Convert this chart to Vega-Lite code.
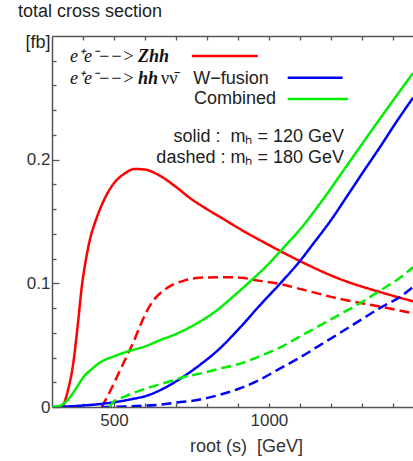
{
  "$schema": "https://vega.github.io/schema/vega-lite/v6.json",
  "width": 361,
  "height": 371,
  "autosize": {"type": "none"},
  "padding": {"left": 52, "top": 36, "right": 0, "bottom": 54},
  "background": "white",
  "title": {"text": "total cross section", "anchor": "start", "frame": "group", "dx": -34, "offset": 12, "fontSize": 18, "font": "Liberation Sans", "fontWeight": "normal", "color": "#222"},
  "config": {"view": {"stroke": null}},
  "datasets": {
    "curves": [
      {"x":335,"y":0,"s":"Zhh","m":"120"},{"x":350,"y":0.012,"s":"Zhh","m":"120"},{"x":369,"y":0.036,"s":"Zhh","m":"120"},{"x":383,"y":0.066,"s":"Zhh","m":"120"},{"x":396,"y":0.097,"s":"Zhh","m":"120"},{"x":410,"y":0.12,"s":"Zhh","m":"120"},{"x":423,"y":0.136,"s":"Zhh","m":"120"},{"x":440,"y":0.15,"s":"Zhh","m":"120"},{"x":455,"y":0.16,"s":"Zhh","m":"120"},{"x":475,"y":0.171,"s":"Zhh","m":"120"},{"x":500,"y":0.181,"s":"Zhh","m":"120"},{"x":530,"y":0.188,"s":"Zhh","m":"120"},{"x":568,"y":0.1925,"s":"Zhh","m":"120"},{"x":600,"y":0.192,"s":"Zhh","m":"120"},{"x":648,"y":0.187,"s":"Zhh","m":"120"},{"x":700,"y":0.178,"s":"Zhh","m":"120"},{"x":745,"y":0.169,"s":"Zhh","m":"120"},{"x":800,"y":0.16,"s":"Zhh","m":"120"},{"x":850,"y":0.1525,"s":"Zhh","m":"120"},{"x":906,"y":0.144,"s":"Zhh","m":"120"},{"x":1000,"y":0.131,"s":"Zhh","m":"120"},{"x":1100,"y":0.118,"s":"Zhh","m":"120"},{"x":1229,"y":0.1035,"s":"Zhh","m":"120"},{"x":1358,"y":0.093,"s":"Zhh","m":"120"},{"x":1465,"y":0.0855,"s":"Zhh","m":"120"},
      {"x":460,"y":0,"s":"Zhh","m":"180"},{"x":480,"y":0.009,"s":"Zhh","m":"180"},{"x":509,"y":0.024,"s":"Zhh","m":"180"},{"x":541,"y":0.041,"s":"Zhh","m":"180"},{"x":562,"y":0.052,"s":"Zhh","m":"180"},{"x":585,"y":0.066,"s":"Zhh","m":"180"},{"x":605,"y":0.077,"s":"Zhh","m":"180"},{"x":630,"y":0.087,"s":"Zhh","m":"180"},{"x":659,"y":0.094,"s":"Zhh","m":"180"},{"x":690,"y":0.099,"s":"Zhh","m":"180"},{"x":724,"y":0.102,"s":"Zhh","m":"180"},{"x":777,"y":0.1045,"s":"Zhh","m":"180"},{"x":850,"y":0.105,"s":"Zhh","m":"180"},{"x":910,"y":0.1045,"s":"Zhh","m":"180"},{"x":971,"y":0.102,"s":"Zhh","m":"180"},{"x":1035,"y":0.0995,"s":"Zhh","m":"180"},{"x":1100,"y":0.0955,"s":"Zhh","m":"180"},{"x":1229,"y":0.0874,"s":"Zhh","m":"180"},{"x":1358,"y":0.0812,"s":"Zhh","m":"180"},{"x":1465,"y":0.0758,"s":"Zhh","m":"180"},
      {"x":300,"y":0,"s":"W-fusion","m":"120"},{"x":400,"y":0.0012,"s":"W-fusion","m":"120"},{"x":476,"y":0.003,"s":"W-fusion","m":"120"},{"x":550,"y":0.006,"s":"W-fusion","m":"120"},{"x":616,"y":0.01,"s":"W-fusion","m":"120"},{"x":660,"y":0.015,"s":"W-fusion","m":"120"},{"x":702,"y":0.021,"s":"W-fusion","m":"120"},{"x":777,"y":0.034,"s":"W-fusion","m":"120"},{"x":840,"y":0.047,"s":"W-fusion","m":"120"},{"x":906,"y":0.064,"s":"W-fusion","m":"120"},{"x":970,"y":0.082,"s":"W-fusion","m":"120"},{"x":1035,"y":0.0995,"s":"W-fusion","m":"120"},{"x":1100,"y":0.118,"s":"W-fusion","m":"120"},{"x":1143,"y":0.132,"s":"W-fusion","m":"120"},{"x":1200,"y":0.151,"s":"W-fusion","m":"120"},{"x":1251,"y":0.17,"s":"W-fusion","m":"120"},{"x":1304,"y":0.19,"s":"W-fusion","m":"120"},{"x":1358,"y":0.21,"s":"W-fusion","m":"120"},{"x":1410,"y":0.23,"s":"W-fusion","m":"120"},{"x":1465,"y":0.25,"s":"W-fusion","m":"120"},
      {"x":460,"y":0,"s":"W-fusion","m":"180"},{"x":550,"y":0.0005,"s":"W-fusion","m":"180"},{"x":650,"y":0.002,"s":"W-fusion","m":"180"},{"x":700,"y":0.0035,"s":"W-fusion","m":"180"},{"x":777,"y":0.006,"s":"W-fusion","m":"180"},{"x":850,"y":0.0105,"s":"W-fusion","m":"180"},{"x":906,"y":0.015,"s":"W-fusion","m":"180"},{"x":970,"y":0.022,"s":"W-fusion","m":"180"},{"x":1035,"y":0.031,"s":"W-fusion","m":"180"},{"x":1100,"y":0.04,"s":"W-fusion","m":"180"},{"x":1165,"y":0.05,"s":"W-fusion","m":"180"},{"x":1230,"y":0.06,"s":"W-fusion","m":"180"},{"x":1294,"y":0.07,"s":"W-fusion","m":"180"},{"x":1358,"y":0.08,"s":"W-fusion","m":"180"},{"x":1423,"y":0.089,"s":"W-fusion","m":"180"},{"x":1465,"y":0.097,"s":"W-fusion","m":"180"},
      {"x":300,"y":0,"s":"Combined","m":"120"},{"x":326,"y":0.001,"s":"Combined","m":"120"},{"x":358,"y":0.008,"s":"Combined","m":"120"},{"x":380,"y":0.016,"s":"Combined","m":"120"},{"x":401,"y":0.024,"s":"Combined","m":"120"},{"x":430,"y":0.031,"s":"Combined","m":"120"},{"x":455,"y":0.036,"s":"Combined","m":"120"},{"x":500,"y":0.041,"s":"Combined","m":"120"},{"x":552,"y":0.0455,"s":"Combined","m":"120"},{"x":600,"y":0.049,"s":"Combined","m":"120"},{"x":648,"y":0.054,"s":"Combined","m":"120"},{"x":700,"y":0.059,"s":"Combined","m":"120"},{"x":745,"y":0.0645,"s":"Combined","m":"120"},{"x":777,"y":0.069,"s":"Combined","m":"120"},{"x":831,"y":0.078,"s":"Combined","m":"120"},{"x":874,"y":0.087,"s":"Combined","m":"120"},{"x":939,"y":0.1015,"s":"Combined","m":"120"},{"x":1000,"y":0.116,"s":"Combined","m":"120"},{"x":1035,"y":0.1255,"s":"Combined","m":"120"},{"x":1068,"y":0.1345,"s":"Combined","m":"120"},{"x":1100,"y":0.1435,"s":"Combined","m":"120"},{"x":1175,"y":0.168,"s":"Combined","m":"120"},{"x":1251,"y":0.195,"s":"Combined","m":"120"},{"x":1358,"y":0.233,"s":"Combined","m":"120"},{"x":1465,"y":0.27,"s":"Combined","m":"120"},
      {"x":485,"y":0,"s":"Combined","m":"180"},{"x":497,"y":0.004,"s":"Combined","m":"180"},{"x":530,"y":0.008,"s":"Combined","m":"180"},{"x":570,"y":0.012,"s":"Combined","m":"180"},{"x":616,"y":0.016,"s":"Combined","m":"180"},{"x":670,"y":0.02,"s":"Combined","m":"180"},{"x":723,"y":0.024,"s":"Combined","m":"180"},{"x":777,"y":0.027,"s":"Combined","m":"180"},{"x":874,"y":0.033,"s":"Combined","m":"180"},{"x":906,"y":0.035,"s":"Combined","m":"180"},{"x":970,"y":0.041,"s":"Combined","m":"180"},{"x":1035,"y":0.048,"s":"Combined","m":"180"},{"x":1100,"y":0.057,"s":"Combined","m":"180"},{"x":1165,"y":0.066,"s":"Combined","m":"180"},{"x":1230,"y":0.075,"s":"Combined","m":"180"},{"x":1294,"y":0.084,"s":"Combined","m":"180"},{"x":1358,"y":0.094,"s":"Combined","m":"180"},{"x":1420,"y":0.104,"s":"Combined","m":"180"},{"x":1465,"y":0.113,"s":"Combined","m":"180"}
    ],
    "keys": [
      {"x":751.8,"x2":964,"y":0.2838,"s":"Zhh"},
      {"x":1060.6,"x2":1238,"y":0.2663,"s":"W-fusion"},
      {"x":1060.6,"x2":1255,"y":0.249,"s":"Combined"}
    ],
    "serif": [
      {"x":358.1,"y":0.279,"t":"e⁺e⁻−−>"},
      {"x":358.1,"y":0.2612,"t":"e⁺e⁻−−>"}
    ],
    "serifBold": [
      {"x":577.5,"y":0.279,"t":"Zhh"},
      {"x":577.5,"y":0.2612,"t":"hh"}
    ],
    "serifUp": [
      {"x":652,"y":0.2612,"t":"νν̄"}
    ],
    "sansLeft": [
      {"x":756,"y":0.2612,"t":"W−fusion"},
      {"x":758.3,"y":0.245,"t":"Combined"}
    ],
    "sansRight": [
      {"x":1242.3,"y":0.2143,"t":"solid :\u00a0 mₕ = 120 GeV"},
      {"x":1242.3,"y":0.1973,"t":"dashed : mₕ = 180 GeV"}
    ]
  },
  "layer": [
    {
      "data": {"name": "curves"},
      "mark": {"type": "line", "strokeWidth": 2.5, "interpolate": "monotone", "clip": true},
      "encoding": {
        "x": {"field": "x", "type": "quantitative", "scale": {"domain": [300, 1465], "nice": false, "zero": false},
          "axis": {"orient": "bottom", "values": [400,500,600,700,800,900,1000,1100,1200,1300,1400], "format": "d",
            "labelExpr": "datum.value == 500 || datum.value == 1000 ? datum.label : ''", "labelOverlap": false,
            "tickSize": -4, "tickColor": "#555", "tickWidth": 1.3, "domainColor": "#555", "domainWidth": 1.5,
            "labelFont": "Liberation Sans", "labelFontSize": 17, "labelColor": "#333", "labelPadding": 9, "labelBaseline": "top",
            "grid": false, "title": "root (s)\u00a0\u00a0[GeV]", "titleFont": "Liberation Sans", "titleFontSize": 18, "titleFontWeight": "normal",
            "titleColor": "#333", "titleX": 194, "titleY": 44, "titleAlign": "center", "titleBaseline": "alphabetic"}},
        "y": {"field": "y", "type": "quantitative", "scale": {"domain": [0, 0.3], "nice": false},
          "axis": {"orient": "left", "values": [0, 0.1, 0.2], "format": "~g", "labelOverlap": false,
            "tickSize": -7, "tickColor": "#555", "tickWidth": 1.3, "domainColor": "#555", "domainWidth": 1.5,
            "labelFont": "Liberation Sans", "labelFontSize": 17, "labelColor": "#333", "labelPadding": 9,
            "grid": false, "title": "[fb]", "titleAngle": 0, "titleX": -2, "titleY": 11, "titleAlign": "right", "titleBaseline": "alphabetic",
            "titleFont": "Liberation Sans", "titleFontSize": 18, "titleFontWeight": "normal", "titleColor": "#222"}},
        "color": {"field": "s", "type": "nominal", "scale": {"domain": ["Zhh","W-fusion","Combined"], "range": ["#ff0000","#0000ff","#00ee00"]}, "legend": null},
        "strokeDash": {"field": "m", "type": "nominal", "scale": {"domain": ["120","180"], "range": [[1,0],[10,5]]}, "legend": null}
      }
    },
    {
      "data": {"name": "keys"},
      "mark": {"type": "rule", "strokeWidth": 2.5},
      "encoding": {
        "x": {"field": "x", "type": "quantitative", "scale": {"domain": [300, 1465], "nice": false, "zero": false},
          "axis": {"orient": "top", "values": [400,500,600,700,800,900,1000,1100,1200,1300,1400], "labels": false, "title": null,
            "tickSize": -4, "tickColor": "#555", "tickWidth": 1.3, "domainColor": "#555", "domainWidth": 1.5, "grid": false}},
        "x2": {"field": "x2"},
        "y": {"field": "y", "type": "quantitative", "scale": {"domain": [0, 0.3], "nice": false},
          "axis": {"orient": "left", "values": [0.02,0.04,0.06,0.08,0.12,0.14,0.16,0.18,0.22,0.24,0.26,0.28], "labels": false, "title": null,
            "domain": false, "tickSize": -4, "tickColor": "#555", "tickWidth": 1.3, "grid": false}},
        "color": {"field": "s", "type": "nominal", "legend": null}
      }
    },
    {
      "data": {"name": "serif"},
      "mark": {"type": "text", "align": "left", "baseline": "alphabetic", "font": "Liberation Serif", "fontStyle": "italic", "fontSize": 18, "color": "#111"},
      "encoding": {
        "x": {"field": "x", "type": "quantitative", "axis": null},
        "y": {"field": "y", "type": "quantitative", "axis": null},
        "text": {"field": "t"}
      }
    },
    {
      "data": {"name": "serifBold"},
      "mark": {"type": "text", "align": "left", "baseline": "alphabetic", "font": "Liberation Serif", "fontStyle": "italic", "fontWeight": "bold", "fontSize": 18, "color": "#111"},
      "encoding": {
        "x": {"field": "x", "type": "quantitative", "axis": null},
        "y": {"field": "y", "type": "quantitative", "axis": null},
        "text": {"field": "t"}
      }
    },
    {
      "data": {"name": "serifUp"},
      "mark": {"type": "text", "align": "left", "baseline": "alphabetic", "font": "Liberation Serif", "fontSize": 18, "color": "#111"},
      "encoding": {
        "x": {"field": "x", "type": "quantitative", "axis": null},
        "y": {"field": "y", "type": "quantitative", "axis": null},
        "text": {"field": "t"}
      }
    },
    {
      "data": {"name": "sansLeft"},
      "mark": {"type": "text", "align": "left", "baseline": "alphabetic", "font": "Liberation Sans", "fontSize": 18, "color": "#222"},
      "encoding": {
        "x": {"field": "x", "type": "quantitative", "axis": null},
        "y": {"field": "y", "type": "quantitative", "axis": null},
        "text": {"field": "t"}
      }
    },
    {
      "data": {"name": "sansRight"},
      "mark": {"type": "text", "align": "right", "baseline": "alphabetic", "font": "Liberation Sans", "fontSize": 18, "color": "#222"},
      "encoding": {
        "x": {"field": "x", "type": "quantitative", "axis": null},
        "y": {"field": "y", "type": "quantitative", "axis": null},
        "text": {"field": "t"}
      }
    }
  ],
  "resolve": {"axis": {"x": "independent", "y": "independent"}}
}
